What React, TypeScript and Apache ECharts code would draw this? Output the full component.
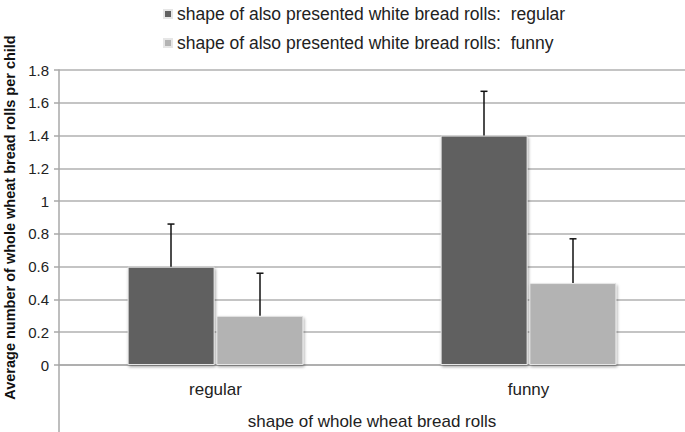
import React, { useEffect, useRef } from "react";
import * as echarts from "echarts";

const categories = ["regular", "funny"];
const seriesNames = [
  "shape of also presented white bread rolls:  regular",
  "shape of also presented white bread rolls:  funny",
];
const regularMeans = [0.6, 1.4];
const regularUpper = [0.86, 1.67];
const funnyMeans = [0.3, 0.5];
const funnyUpper = [0.56, 0.77];
const yTicks = { min: 0, max: 1.8, interval: 0.2 };

const BAR_W = 87;
const OFFSET = 44.5;
const FONT = "Liberation Sans, Arial, sans-serif";

function errorSeries(means: number[], upper: number[], dx: number) {
  return {
    type: "custom",
    silent: true,
    z: 5,
    data: means.map((m, i) => [i, m, upper[i]]),
    renderItem: (params: any, api: any) => {
      const lo = api.coord([api.value(0), api.value(1)]);
      const hi = api.coord([api.value(0), api.value(2)]);
      const x = lo[0] + dx;
      const style = { stroke: "#111", lineWidth: 1.5 };
      return {
        type: "group",
        children: [
          { type: "line", shape: { x1: x, y1: lo[1], x2: x, y2: hi[1] }, style },
          { type: "line", shape: { x1: x - 3.5, y1: hi[1], x2: x + 3.5, y2: hi[1] }, style },
        ],
      };
    },
  };
}

export default function App() {
  const ref = useRef<HTMLDivElement>(null);
  useEffect(() => {
    if (!ref.current) return;
    const chart = echarts.init(ref.current, null, { renderer: "svg" });
    const barStyle = (color: string) => ({
      color,
      borderColor: "#e6e6e6",
      borderWidth: 1,
      shadowColor: "rgba(0,0,0,0.35)",
      shadowBlur: 3,
      shadowOffsetX: 1,
      shadowOffsetY: 2,
    });
    chart.setOption({
      animation: false,
      textStyle: { fontFamily: FONT },
      legend: {
        orient: "vertical",
        left: 158,
        top: 0,
        itemWidth: 8,
        itemHeight: 8,
        itemGap: 11,
        icon: "rect",
        data: seriesNames,
        textStyle: { fontSize: 17.5, color: "#222", fontFamily: FONT },
      },
      grid: {
        left: 59,
        right: 0,
        top: 70,
        bottom: 67,
        containLabel: false,
        outerBoundsMode: "none",
      },
      xAxis: {
        type: "category",
        data: categories,
        name: "shape of whole wheat bread rolls",
        nameLocation: "middle",
        nameGap: 48,
        nameMoveOverlap: false,
        nameTextStyle: { fontSize: 17, color: "#222" },
        axisLine: { lineStyle: { color: "#a8a8a8", width: 1.5 } },
        axisTick: { show: false },
        axisLabel: { fontSize: 17, color: "#222", margin: 16 },
      },
      yAxis: {
        type: "value",
        min: yTicks.min,
        max: yTicks.max,
        interval: yTicks.interval,
        name: "Average number of whole wheat bread rolls per child",
        nameLocation: "middle",
        nameGap: 42,
        nameMoveOverlap: false,
        nameTextStyle: { fontSize: 14.5, fontWeight: "bold", color: "#111" },
        axisLine: { show: true, lineStyle: { color: "#a8a8a8", width: 1.5 } },
        axisTick: { show: true, length: 5, lineStyle: { color: "#a8a8a8", width: 1.5 } },
        axisLabel: { fontSize: 15, color: "#222", margin: 10 },
        splitLine: { lineStyle: { color: "#b0b0b0", width: 1.5 } },
      },
      graphic: [
        {
          type: "line",
          shape: { x1: 59, y1: 365, x2: 59, y2: 432 },
          style: { stroke: "#a8a8a8", lineWidth: 1.5 },
        },
      ],
      series: [
        {
          name: seriesNames[0],
          type: "bar",
          data: regularMeans,
          barWidth: BAR_W,
          barGap: "2%",
          itemStyle: barStyle("#616161"),
        },
        {
          name: seriesNames[1],
          type: "bar",
          data: funnyMeans,
          barWidth: BAR_W,
          barGap: "2%",
          itemStyle: barStyle("#b3b3b3"),
        },
        errorSeries(regularMeans, regularUpper, -OFFSET),
        errorSeries(funnyMeans, funnyUpper, OFFSET),
      ],
    });
    return () => chart.dispose();
  }, []);
  return <div ref={ref} style={{ width: 685, height: 432, position: "absolute", left: 0, top: 0 }} />;
}
